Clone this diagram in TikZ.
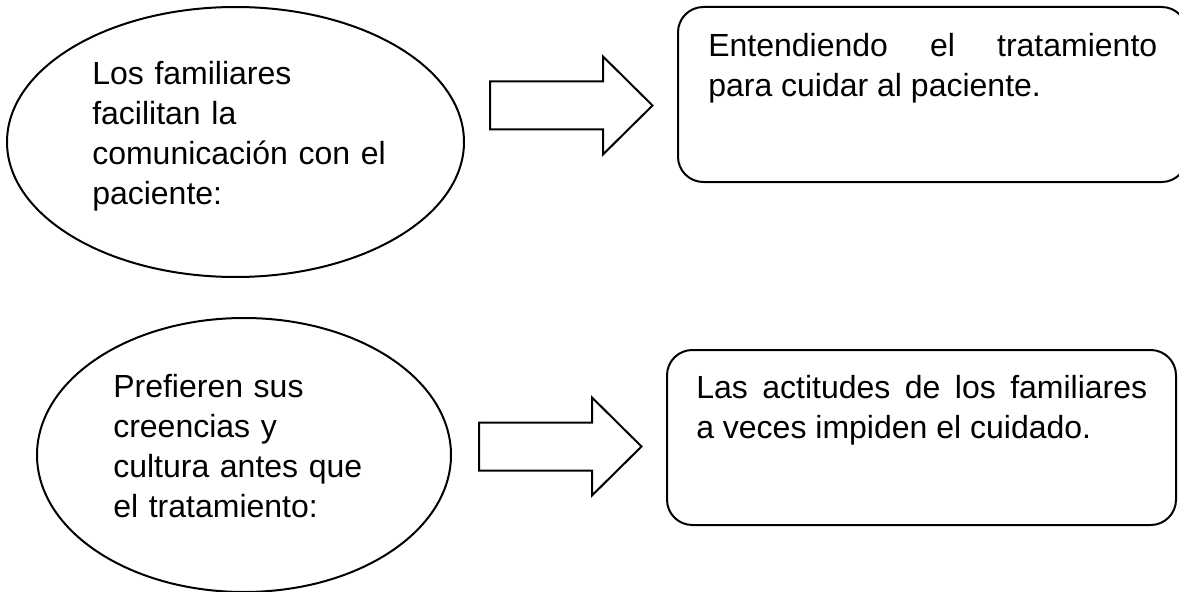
\documentclass[tikz,border=0pt]{standalone}
\usepackage{fontspec}
\setmainfont{Liberation Sans}
\usepackage{tikz}
\usetikzlibrary{shapes.geometric,positioning}

\tikzset{
    bubble/.style={draw, ellipse, line width=1.5pt, inner sep=0pt},
    roundbox/.style={draw, rectangle, rounded corners=19pt, line width=1.5pt, inner sep=0pt,
        minimum width=381.75pt, minimum height=131.25pt},
    bodytext/.style={inner sep=0pt, anchor=base west, font=\fontsize{24}{30}\selectfont},
    blockarrow/.pic={
        \draw[line width=1.5pt, line join=miter]
            (0,-24) -- (113,-24) -- (113,-49) -- (162.5,0) -- (113,49) -- (113,24) -- (0,24) -- cycle;
    }
}

\begin{document}
\begin{tikzpicture}[x=0.75pt, y=-0.75pt]
    \useasboundingbox (0,0) rectangle (1179,592);

    % Upper row
    \node[bubble, minimum width=342.75pt, minimum height=202.5pt] (familiares) at (235.5,142) {};
    \node[bodytext, text width=240pt, align=left] (familiaresText) at (92,85)
        {Los familiares\\ facilitan la\\ comunicación con el\\ paciente:};
    \pic at (490,105.5) {blockarrow};
    \node[roundbox] (tratamiento) at (932.5,94.5) {};
    \node[bodytext, text width=336.75pt, align=justify] (tratamientoText) at (708,57)
        {Entendiendo el tratamiento\linebreak para cuidar al paciente.};

    % Lower row
    \node[bubble, minimum width=310.5pt, minimum height=205.5pt] (creencias) at (244,455) {};
    \node[bodytext, text width=240pt, align=left] (creenciasText) at (113,397)
        {Prefieren sus\\ creencias y\\ cultura antes que\\ el tratamiento:};
    \pic at (479,446.5) {blockarrow};
    \node[roundbox] (actitudes) at (921.5,437.5) {};
    \node[bodytext, text width=338.25pt, align=justify] (actitudesText) at (696,398)
        {Las actitudes de los familiares\linebreak a veces impiden el cuidado.};
\end{tikzpicture}
\end{document}
